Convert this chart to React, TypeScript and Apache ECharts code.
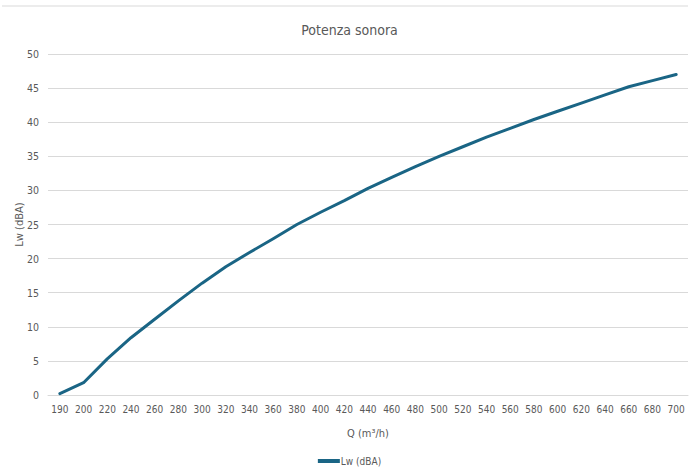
import React, { useEffect, useRef } from "react";
import * as echarts from "echarts";

const categories = ["190","200","220","240","260","280","300","320","340","360","380","400","420","440","460","480","500","520","540","560","580","600","620","640","660","680","700"];
const lwValues = [0.2,1.8,5.3,8.4,11.1,13.8,16.4,18.8,20.9,22.9,25.0,26.8,28.5,30.3,31.9,33.5,35.0,36.4,37.8,39.1,40.4,41.6,42.8,44.0,45.2,46.1,47.0];
const seriesName = "Lw (dBA)";
const titleText = "Potenza sonora";
const xName = "Q (m³/h)";
const yName = "Lw (dBA)";

const FONT = "'Liberation Sans Narrow', 'DejaVu Sans Condensed', 'Roboto', sans-serif";
const TXT = "#595959";

export default function App() {
  const ref = useRef<HTMLDivElement>(null);
  useEffect(() => {
    if (!ref.current) return;
    const chart = echarts.init(ref.current, null, { renderer: "svg" });
    chart.setOption({
      animation: false,
      backgroundColor: "#ffffff",
      textStyle: { fontFamily: FONT },
      title: {
        text: titleText,
        left: "center",
        top: 18,
        textStyle: { fontFamily: FONT, fontSize: 14, fontWeight: "normal", color: TXT },
      },
      graphic: [
        { type: "line", shape: { x1: 2, y1: 6, x2: 688, y2: 6 }, style: { stroke: "#d9d9d9", lineWidth: 1 } },
      ],
      grid: { left: 48, right: 11, top: 54, bottom: 78 },
      legend: {
        bottom: 2,
        left: "center",
        icon: "rect",
        itemWidth: 22,
        itemHeight: 4,
        itemGap: 10,
        textStyle: { fontFamily: FONT, fontSize: 10, color: TXT, padding: [0, 0, 0, -4] },
        data: [seriesName],
      },
      xAxis: {
        type: "category",
        data: categories,
        boundaryGap: true,
        name: xName,
        nameLocation: "middle",
        nameGap: 33,
        nameMoveOverlap: false,
        nameTextStyle: { fontFamily: FONT, fontSize: 11, color: TXT },
        axisLine: { show: true, lineStyle: { color: "#d9d9d9", width: 1 } },
        axisTick: { show: false },
        axisLabel: { interval: 0, fontFamily: FONT, fontSize: 10, color: TXT, margin: 9 },
      },
      yAxis: {
        type: "value",
        min: 0,
        max: 50,
        interval: 5,
        name: yName,
        nameLocation: "middle",
        nameGap: 23,
        nameMoveOverlap: false,
        nameTextStyle: { fontFamily: FONT, fontSize: 11, color: TXT },
        axisLine: { show: false },
        axisTick: { show: false },
        axisLabel: { fontFamily: FONT, fontSize: 10.5, color: TXT, margin: 9 },
        splitLine: { lineStyle: { color: "#d9d9d9", width: 1 } },
      },
      series: [
        {
          name: seriesName,
          type: "line",
          data: lwValues,
          showSymbol: false,
          symbol: "none",
          smooth: false,
          lineStyle: { color: "#1a6585", width: 3, cap: "round", join: "round" },
          itemStyle: { color: "#1a6585" },
        },
      ],
    });
    return () => chart.dispose();
  }, []);
  return (
    <div
      ref={ref}
      style={{ position: "fixed", left: 0, top: 0, width: 699, height: 473 }}
    />
  );
}
